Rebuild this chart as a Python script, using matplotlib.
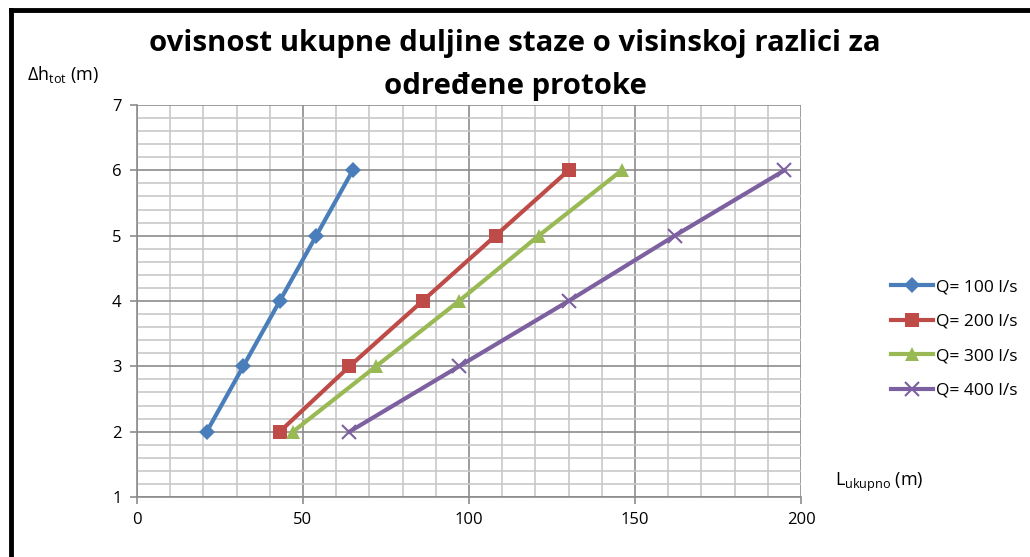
import matplotlib
matplotlib.use('Agg')
import matplotlib.pyplot as plt
from matplotlib.lines import Line2D
from matplotlib.ticker import MultipleLocator

plt.rcParams['font.family'] = ['Open Sans', 'DejaVu Sans']
plt.rcParams['mathtext.fontset'] = 'custom'
plt.rcParams['mathtext.rm'] = 'Open Sans'

# data
h_tot = [2, 3, 4, 5, 6]
L_q100 = [21, 32, 43, 54, 65]
L_q200 = [43, 64, 86, 108, 130]
L_q300 = [47, 72, 97, 121, 146]
L_q400 = [64, 97, 130, 162, 195]
series_labels = ['Q= 100 l/s', 'Q= 200 l/s', 'Q= 300 l/s', 'Q= 400 l/s']
colors = ['#4a7ebb', '#be4b48', '#98b954', '#7d60a0']
markers = ['D', 's', '^', 'x']
msizes = [8, 10.5, 9.5, 9.5]

fig = plt.figure(figsize=(10.30, 5.57), dpi=100)
ax = fig.add_axes([137 / 1030, 1 - 497 / 557, 664 / 1030, 392 / 557])

for L, lab, c, m, ms in zip([L_q100, L_q200, L_q300, L_q400], series_labels,
                            colors, markers, msizes):
    ax.plot(L, h_tot, color=c, lw=3, marker=m, ms=ms, mew=1.5 if m == 'x' else 0,
            mec=c, label=lab, zorder=3)

ax.set_xlim(0, 200)
ax.set_ylim(1, 7)
ax.xaxis.set_major_locator(MultipleLocator(50))
ax.xaxis.set_minor_locator(MultipleLocator(10))
ax.yaxis.set_major_locator(MultipleLocator(1))
ax.yaxis.set_minor_locator(MultipleLocator(0.2))
ax.grid(which='minor', color='#c8c8c8', lw=1.2)
ax.grid(which='major', color='#8c8c8c', lw=1.2)
ax.set_axisbelow(True)
for s in ['top', 'right']:
    ax.spines[s].set_visible(False)
for s in ['left', 'bottom']:
    ax.spines[s].set_color('#8c8c8c')
    ax.spines[s].set_linewidth(1.2)
ax.tick_params(which='major', length=5, width=1.2, color='#8c8c8c',
               labelsize=12, pad=6)
ax.tick_params(which='minor', length=0)

fig.text(0.5, 1 - 51 / 557, 'ovisnost ukupne duljine staze o visinskoj razlici za',
         ha='center', va='baseline', fontsize=21.2, fontweight='bold')
fig.text(0.5, 1 - 94 / 557, 'određene protoke',
         ha='center', va='baseline', fontsize=21.2, fontweight='bold')
fig.text(27 / 1030, 1 - 80 / 557, r'$\Delta$h$_{\mathrm{tot}}$ (m)',
         fontsize=13, va='baseline')
fig.text(835 / 1030, 1 - 486 / 557, r'L$_{\mathrm{ukupno}}$ (m)',
         fontsize=13, va='baseline')

ax.legend(loc='center left', bbox_to_anchor=(891 / 1030, 1 - 339 / 557),
          bbox_transform=fig.transFigure, frameon=False, fontsize=12.5,
          handlelength=2.4, handletextpad=0.2, labelspacing=1.05,
          borderaxespad=0, borderpad=0)

# border of the chart area (only top and left are visible in the reference)
fig.add_artist(Line2D([11 / 1030, 11 / 1030], [0, 1 - 10 / 557],
                      transform=fig.transFigure, color='black', lw=3.5))
fig.add_artist(Line2D([11 / 1030, 1], [1 - 10 / 557, 1 - 10 / 557],
                      transform=fig.transFigure, color='black', lw=3.5))

fig.savefig('out.png', dpi=100)
